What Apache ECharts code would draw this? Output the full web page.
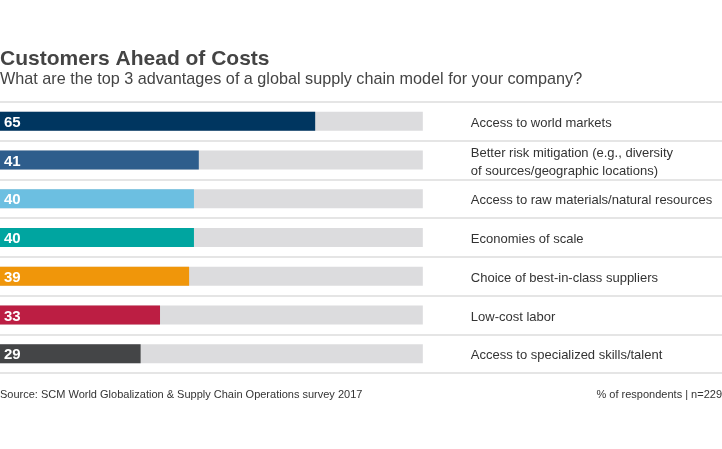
<!DOCTYPE html>
<html>
<head>
	<meta charset="utf-8">
	<title>Customers Ahead of Costs</title>
	<script src="https://cdn.jsdelivr.net/npm/echarts@6/dist/echarts.min.js"></script>
	<style>
		html, body { margin: 0; padding: 0; background: #fff; }
	</style>
</head>
<body>
	<div id="main" style="width: 722px; height: 449px"></div>
	<script type="text/javascript">
		// data (% of respondents)
		var categories = [
			'Access to world markets',
			'Better risk mitigation (e.g., diversity\nof sources/geographic locations)',
			'Access to raw materials/natural resources',
			'Economies of scale',
			'Choice of best-in-class suppliers',
			'Low-cost labor',
			'Access to specialized skills/talent'
		];
		var values = [65, 41, 40, 40, 39, 33, 29];
		var barColors = ['#003660', '#2e5d8c', '#6cbfe1', '#00a5a0', '#f0960a', '#bc1e43', '#444547'];
		// grey track behind each bar
		var trackValue = 87.2;
		var trackValues = categories.map(function () { return trackValue; });

		var font = '"Liberation Sans", Arial, Helvetica, sans-serif';
		var myChart = echarts.init(document.getElementById('main'));

		var option = {
			animation: false,
			textStyle: { fontFamily: font },
			title: [{
				text: 'Customers Ahead of Costs',
				left: 0,
				top: 49,
				padding: 0,
				textStyle: { fontFamily: font, fontSize: 21, fontWeight: 'bold', color: '#444444' }
			}, {
				text: 'What are the top 3 advantages of a global supply chain model for your company?',
				left: 0,
				top: 72,
				padding: 0,
				textStyle: { fontFamily: font, fontSize: 16.2, fontWeight: 'normal', color: '#444444' }
			}, {
				text: 'Source: SCM World Globalization & Supply Chain Operations survey 2017',
				left: 0,
				top: 389,
				padding: 0,
				textStyle: { fontFamily: font, fontSize: 11, fontWeight: 'normal', color: '#333333' }
			}, {
				text: '% of respondents | n=229',
				right: 0,
				top: 389,
				padding: 0,
				textStyle: { fontFamily: font, fontSize: 11, fontWeight: 'normal', color: '#333333' }
			}],
			grid: { left: 0, right: 0, top: 102, bottom: 76 },
			xAxis: {
				type: 'value',
				min: 0,
				max: 148.9,
				show: false
			},
			yAxis: {
				type: 'category',
				inverse: true,
				data: categories,
				axisLine: { show: false },
				axisTick: { show: false },
				axisLabel: { show: false },
				splitLine: { show: true, lineStyle: { color: '#dcdcdc', width: 1.5 } }
			},
			series: [{
				type: 'bar',
				data: trackValues,
				barWidth: 19,
				barGap: '-100%',
				silent: true,
				itemStyle: { color: '#dcdcde' },
				label: {
					show: true,
					position: 'right',
					distance: 48,
					offset: [0, 2],
					formatter: function (p) { return categories[p.dataIndex]; },
					fontFamily: font,
					fontSize: 13,
					lineHeight: 18,
					color: '#333333'
				},
				z: 1
			}, {
				type: 'bar',
				data: values.map(function (v, i) {
					return { value: v, itemStyle: { color: barColors[i] } };
				}),
				barWidth: 19,
				label: {
					show: true,
					position: 'insideLeft',
					distance: 4,
					offset: [0, 1.5],
					fontFamily: font,
					fontSize: 15,
					fontWeight: 'bold',
					color: '#ffffff'
				},
				z: 2
			}]
		};
		myChart.setOption(option);
	</script>
</body>
</html>
